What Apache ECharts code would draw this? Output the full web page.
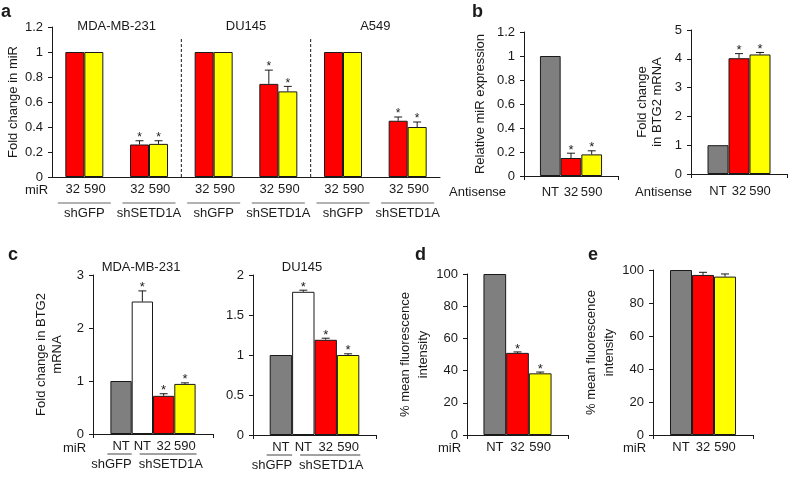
<!DOCTYPE html>
<html><head><meta charset="utf-8">
<script src="https://cdn.jsdelivr.net/npm/echarts@6/dist/echarts.min.js"></script>
<style>html,body{margin:0;padding:0;background:#fff}#c{width:788px;height:477px}</style>
</head><body><div id="c"></div>
<script>
// ---------------- data ----------------
// panel a
const aCategories = ['shGFP','shSETD1A','shGFP','shSETD1A','shGFP','shSETD1A'];
const aCellLines = ['MDA-MB-231','DU145','A549'];
const aMiR = ['32','590'];
const a32 = [1, 0.26, 1, 0.745, 1, 0.45];
const a32Err = [1, 0.29, 1, 0.855, 1, 0.48];
const a590 = [1, 0.265, 1, 0.685, 1, 0.40];
const a590Err = [1, 0.29, 1, 0.725, 1, 0.44];
const aStars = [0, 1, 0, 1, 0, 1];
const aYRange = [0, 1.2, 0.2];
// panel b
const bNames = ['NT','32','590'];
const b1Values = [1, 0.15, 0.18];
const b1Err = [1, 0.19, 0.21];
const b1Stars = [0, 1, 1];
const b1YRange = [0, 1.2, 0.2];
const b2Values = [1, 4.02, 4.15];
const b2Err = [1, 4.18, 4.22];
const b2Stars = [0, 1, 1];
const b2YRange = [0, 5, 1];
// panel c
const cNames = ['NT','NT','32','590'];
const cGroups = ['shGFP','shSETD1A'];
const cGroupSpans = [[0,0],[1,3]];
const cCellLines = ['MDA-MB-231','DU145'];
const c1Values = [1, 2.5, 0.72, 0.945];
const c1Err = [1, 2.7, 0.76, 0.965];
const c2Values = [1, 1.79, 1.19, 1.0];
const c2Err = [1, 1.81, 1.21, 1.015];
const cStars = [0, 1, 1, 1];
const c1YRange = [0, 3, 1];
const c2YRange = [0, 2, 0.5];
// panels d, e
const deNames = ['NT','32','590'];
const dValues = [100, 51, 38.3];
const dErr = [100, 51.6, 39.1];
const dStars = [0, 1, 1];
const eValues = [100, 97, 96];
const eErr = [100, 98.6, 97.6];
const eStars = [0, 0, 0];
const deYRange = [0, 100, 20];

// ---------------- styles ----------------
const FONT = "'Liberation Sans', Arial, Helvetica, sans-serif";
const TXT = '#1a1a1a';
const GRAY = '#7f7f7f', RED = '#ff0000', YEL = '#ffff00', WHITE = '#ffffff';

const grids = [
  {left:52,  top:27,  width:388, height:150}, // a
  {left:524, top:32,  width:94,  height:144}, // b1
  {left:691, top:30,  width:96,  height:144}, // b2
  {left:93,  top:275, width:120, height:159}, // c1
  {left:253, top:275, width:123, height:160}, // c2
  {left:467, top:274, width:101, height:161}, // d
  {left:653, top:270, width:100, height:165}  // e
];

function yAx(gi, range, name, nameGap, lh) {
  return {
    type:'value', gridIndex:gi, min:range[0], max:range[1], interval:range[2],
    splitLine:{show:false},
    axisLine:{show:true, lineStyle:{color:TXT, width:1}},
    axisTick:{show:true, length:4, lineStyle:{color:TXT, width:1}},
    axisLabel:{color:TXT, fontSize:13, fontFamily:FONT, margin:9},
    name:name || '', nameLocation:'middle', nameGap:nameGap || 0, nameRotate:90,
    nameTextStyle:{color:TXT, fontSize:13, fontFamily:FONT, lineHeight:lh || 16}
  };
}
function xAxSingle(gi) {
  return {
    type:'category', gridIndex:gi, data:[''],
    axisLine:{show:true, lineStyle:{color:TXT, width:1}},
    axisTick:{show:true, length:4, lineStyle:{color:TXT, width:1}},
    axisLabel:{show:false}, splitLine:{show:false}
  };
}
function bars(gi, names, values, colors, bw, dist) {
  return names.map((nm, i) => ({
    type:'bar', name:nm, xAxisIndex:gi, yAxisIndex:gi, data:[values[i]],
    barWidth:bw, barGap:'0%', silent:true,
    itemStyle:{color:colors[i], borderColor:TXT, borderWidth:1},
    label:{show:true, position:'bottom', distance:dist, formatter:nm, color:TXT, fontSize:13, fontFamily:FONT}
  }));
}
function errRender(bw, nBars, starSize) {
  return function (params, api) {
    const cat = api.value(0), v = api.value(1), e = api.value(2), s = api.value(3), k = api.value(4);
    const p = api.coord([cat, v]);
    const x = p[0] + (k - (nBars - 1) / 2) * bw;
    const yv = p[1];
    const ye = api.coord([cat, e])[1];
    const ch = [];
    if (e > v) {
      ch.push({type:'line', shape:{x1:x, y1:yv, x2:x, y2:ye}, style:{stroke:TXT, lineWidth:1}});
      ch.push({type:'line', shape:{x1:x - 4, y1:ye, x2:x + 4, y2:ye}, style:{stroke:TXT, lineWidth:1}});
    }
    if (s) ch.push({type:'text', x:x, y:ye - 3, style:{text:'*', fill:TXT, fontSize:starSize, fontFamily:FONT, align:'center', verticalAlign:'middle'}});
    return {type:'group', children:ch};
  };
}
function errSingle(gi, values, errs, stars, bw) {
  return {
    type:'custom', xAxisIndex:gi, yAxisIndex:gi, silent:true, z:5,
    data: values.map((v, i) => [0, v, errs[i], stars[i], i]),
    encode:{x:0, y:1},
    renderItem: errRender(bw, values.length, 13)
  };
}

// ---------------- series ----------------
const series = [];
// panel a
const aBW = 19;
series.push({
  type:'bar', name:'32', xAxisIndex:0, yAxisIndex:0, data:a32, barWidth:aBW, barGap:'0%', silent:true,
  itemStyle:{color:RED, borderColor:TXT, borderWidth:1},
  label:{show:true, position:'bottom', distance:6, offset:[-2, 0], formatter:aMiR[0], color:TXT, fontSize:13, fontFamily:FONT}
});
series.push({
  type:'bar', name:'590', xAxisIndex:0, yAxisIndex:0, data:a590, barWidth:aBW, barGap:'0%', silent:true,
  itemStyle:{color:YEL, borderColor:TXT, borderWidth:1},
  label:{show:true, position:'bottom', distance:6, offset:[1, 0], formatter:aMiR[1], color:TXT, fontSize:13, fontFamily:FONT}
});
const aErrData = [];
aCategories.forEach((c, i) => {
  aErrData.push([i, a32[i], a32Err[i], aStars[i], 0]);
  aErrData.push([i, a590[i], a590Err[i], aStars[i], 1]);
});
series.push({type:'custom', xAxisIndex:0, yAxisIndex:0, silent:true, z:5, data:aErrData, encode:{x:0, y:1}, renderItem:errRender(aBW, 2, 12)});
// panel a decorations: underlines, separators, cell line titles
series.push({
  type:'custom', xAxisIndex:0, yAxisIndex:0, silent:true, z:5,
  data: aCategories.map((c, i) => [i, 0]), encode:{x:0, y:1},
  renderItem: function (params, api) {
    const c = api.value(0);
    const p0 = api.coord([c, 0]);
    const band = api.size([1, 0])[0];
    const ch = [];
    const w = band * 0.82;
    ch.push({type:'line', shape:{x1:p0[0] - w / 2, y1:p0[1] + 26, x2:p0[0] + w / 2, y2:p0[1] + 26}, style:{stroke:'#666', lineWidth:1.2}});
    if (c % 2 === 1 && c < aCategories.length - 1) {
      const xs = (p0[0] + api.coord([c + 1, 0])[0]) / 2;
      ch.push({type:'line', shape:{x1:xs, y1:p0[1], x2:xs, y2:api.coord([c, 1.12])[1]}, style:{stroke:TXT, lineWidth:1, lineDash:[3, 2]}});
    }
    if (c % 2 === 0) {
      const xm = (p0[0] + api.coord([c + 1, 0])[0]) / 2;
      ch.push({type:'text', x:xm, y:api.coord([c, 1.2])[1] - 1, style:{text:aCellLines[c / 2], fill:TXT, fontSize:13, fontFamily:FONT, align:'center', verticalAlign:'middle'}});
    }
    return {type:'group', children:ch};
  }
});

// panel b
series.push(...bars(1, bNames, b1Values, [GRAY, RED, YEL], 20.7, 10));
series.push(errSingle(1, b1Values, b1Err, b1Stars, 20.7));
series.push(...bars(2, bNames, b2Values, [GRAY, RED, YEL], 21, 11));
series.push(errSingle(2, b2Values, b2Err, b2Stars, 21));

// panel c
function cDecor(gi, bw) {
  return {
    type:'custom', xAxisIndex:gi, yAxisIndex:gi, silent:true, z:5,
    data: cGroups.map((g, k) => [0, 0, k]), encode:{x:0, y:1},
    renderItem: function (params, api) {
      const k = api.value(2);
      const p = api.coord([0, 0]);
      const n = cNames.length;
      const sp = cGroupSpans[k];
      const xL = p[0] + (sp[0] - (n - 1) / 2) * bw - bw / 2;
      const xR = p[0] + (sp[1] - (n - 1) / 2) * bw + bw / 2;
      const first = k === 0;
      const l1 = first ? xL - 3 : xL + 8, l2 = first ? xR : xR + 1;
      return {type:'group', children:[
        {type:'line', shape:{x1:l1, y1:p[1] + 20, x2:l2, y2:p[1] + 20}, style:{stroke:'#444', lineWidth:1}},
        {type:'text', x: first ? xR : xL + 7, y:p[1] + 30, style:{text:cGroups[k], fill:TXT, fontSize:13, fontFamily:FONT, align: first ? 'right' : 'left', verticalAlign:'middle'}}
      ]};
    }
  };
}
series.push(...bars(3, cNames, c1Values, [GRAY, WHITE, RED, YEL], 21.3, 6));
series.push(errSingle(3, c1Values, c1Err, cStars, 21.3));
series.push(cDecor(3, 21.3));
series.push(...bars(4, cNames, c2Values, [GRAY, WHITE, RED, YEL], 22.4, 6));
series.push(errSingle(4, c2Values, c2Err, cStars, 22.4));
series.push(cDecor(4, 22.4));

// panels d, e
series.push(...bars(5, deNames, dValues, [GRAY, RED, YEL], 22.7, 6));
series.push(errSingle(5, dValues, dErr, dStars, 22.7));
series.push(...bars(6, deNames, eValues, [GRAY, RED, YEL], 22, 6));
series.push(errSingle(6, eValues, eErr, eStars, 22));

// ---------------- axes ----------------
const xAxis = [
  {
    type:'category', gridIndex:0, data:aCategories,
    axisLine:{show:true, lineStyle:{color:TXT, width:1}},
    axisTick:{show:false},
    axisLabel:{color:TXT, fontSize:13, fontFamily:FONT, margin:30, interval:0},
    splitLine:{show:false}
  },
  xAxSingle(1), xAxSingle(2), xAxSingle(3), xAxSingle(4), xAxSingle(5), xAxSingle(6)
];
const yAxis = [
  yAx(0, aYRange, 'Fold change in miR', 26),
  yAx(1, b1YRange, 'Relative miR expression', 36),
  yAx(2, b2YRange, 'Fold change\nin BTG2 mRNA', 26, 15),
  yAx(3, c1YRange, 'Fold change in BTG2\nmRNA', 28, 16),
  yAx(4, c2YRange, '', 0),
  yAx(5, deYRange, '% mean fluorescence\nintensity', 32, 18),
  yAx(6, deYRange, '% mean fluorescence\nintensity', 33, 18)
];

function txt(x, y, text, opts) {
  opts = opts || {};
  return {type:'text', x:x, y:y, silent:true, style:{
    text:text, fill:TXT, fontSize:opts.size || 13, fontWeight:opts.weight || 'normal', fontFamily:FONT,
    align:opts.align || 'left', verticalAlign:'middle'}};
}
const graphic = [
  txt(1, 12, 'a', {size:18, weight:'bold'}),
  txt(472, 12, 'b', {size:18, weight:'bold'}),
  txt(8, 255, 'c', {size:18, weight:'bold'}),
  txt(415, 255, 'd', {size:18, weight:'bold'}),
  txt(588, 255, 'e', {size:18, weight:'bold'}),
  txt(25, 190, 'miR'),
  txt(449, 192, 'Antisense'),
  txt(635, 192, 'Antisense'),
  txt(63, 448, 'miR'),
  txt(438, 448, 'miR'),
  txt(623, 448, 'miR'),
  txt(141, 267, cCellLines[0], {align:'center'}),
  txt(302, 267, cCellLines[1], {align:'center'})
];

const chart = echarts.init(document.getElementById('c'), null, {renderer:'canvas'});
chart.setOption({
  animation:false,
  backgroundColor:'#fff',
  textStyle:{fontFamily:FONT},
  grid:grids,
  xAxis:xAxis,
  yAxis:yAxis,
  series:series,
  graphic:graphic
});
</script>
</body></html>
